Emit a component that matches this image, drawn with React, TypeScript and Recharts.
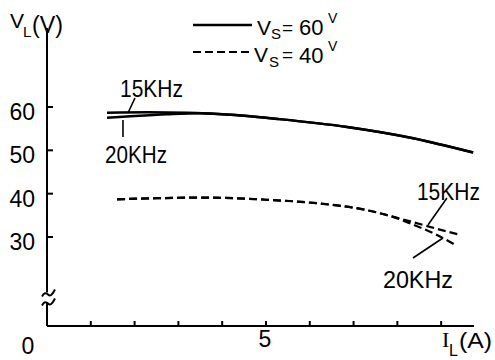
import { LineChart, Line, XAxis, YAxis, ReferenceDot, ReferenceLine } from 'recharts';

const FONT = '"Liberation Sans", Arial, sans-serif';
const INK = '#000';

// I_L (A) / V_L (V)
const iSolid15 = [1.37, 2.3, 3.2, 4.2, 5.3, 6.85, 8.36, 9.73];
const vSolid15 = [58.7, 58.8, 58.7, 58.2, 57.2, 55.4, 52.8, 49.5];
const iSolid20 = [1.37, 2.0, 2.74, 3.5, 4.2, 5.3, 6.85, 8.36, 9.73];
const vSolid20 = [57.5, 57.9, 58.3, 58.55, 58.2, 57.2, 55.4, 52.8, 49.5];
const iDash15 = [1.6, 2.5, 3.5, 5.0, 6.15, 7.3, 8.0, 8.3, 8.86, 9.43];
const vDash15 = [38.7, 38.95, 39.1, 38.6, 37.8, 36.2, 34.4, 33.6, 32.0, 30.5];
const iDash20 = [1.6, 2.5, 3.5, 5.0, 6.15, 7.3, 8.0, 8.3, 8.86, 9.32];
const vDash20 = [38.7, 38.95, 39.1, 38.6, 37.8, 36.2, 34.3, 33.1, 30.7, 28.2];

const xTicks = [0, 1, 2, 3, 4, 5, 6, 7, 8, 9];
const xTickLabels: Record<number, string> = { 0: '0', 5: '5' };
const yTicks = [30, 40, 50, 60];

const zip = (xs: number[], ys: number[]) => xs.map((x, k) => ({ i: x, v: ys[k] }));

// frequency labels (data coords of text start / baseline) + leader lines
const freqLabels = [
  { text: '15KHz', i: 1.667, v: 62.3, len: 63 },
  { text: '20KHz', i: 1.324, v: 47.1, len: 62 },
  { text: '15KHz', i: 8.447, v: 38.5, len: 63 },
  { text: '20KHz', i: 7.671, v: 18.2, len: 70 },
];
const leaders = [
  [{ x: 2.009, y: 62.08 }, { x: 1.849, y: 58.62 }],
  [{ x: 1.735, y: 57.0 }, { x: 1.735, y: 53.08 }],
  [{ x: 9.132, y: 39.0 }, { x: 8.699, y: 32.77 }],
  [{ x: 8.356, y: 25.15 }, { x: 9.041, y: 29.77 }],
];

const YTick = ({ x, y, payload }: any) => (
  <g>
    <line x1={x} y1={y} x2={x + 6} y2={y} stroke={INK} strokeWidth={2} />
    <text x={x - 12} y={y + 13} textAnchor="end" fontSize={23} fontFamily={FONT} fill={INK}>
      {payload.value}
    </text>
  </g>
);

const XTick = ({ x, y, payload }: any) => {
  const lab = xTickLabels[payload.value];
  const isZero = payload.value === 0;
  return (
    <g>
      {!isZero && <line x1={x} y1={y} x2={x} y2={y - 5} stroke={INK} strokeWidth={2} />}
      {lab && (
        <text
          x={isZero ? x - 19 : x - 1}
          y={isZero ? y + 28 : y + 21}
          textAnchor="middle"
          fontSize={23}
          fontFamily={FONT}
          fill={INK}
        >
          {lab}
        </text>
      )}
    </g>
  );
};

// axis break on the V axis
const BreakMark = ({ cx, cy }: any) => (
  <g fill="none" stroke={INK} strokeWidth={2}>
    <rect x={cx - 4} y={cy - 5} width={8} height={10} fill="#fff" stroke="none" />
    <path d={`M ${cx - 5} ${cy - 1} c 2 -4 4 -4 6 -2 s 4 1 7 -5`} />
    <path d={`M ${cx - 5} ${cy + 8} c 2 -4 4 -4 6 -2 s 4 1 7 -5`} />
  </g>
);

export default function App() {
  return (
    <div style={{ width: 495, height: 360, background: '#fff' }}>
      <style>{'body{margin:0}'}</style>
      <LineChart width={495} height={360} margin={{ top: 28, right: 21, bottom: 0, left: 0 }}>
        <XAxis
          dataKey="i"
          type="number"
          domain={[0, 9.75]}
          ticks={xTicks}
          interval={0}
          height={34}
          tickSize={0}
          tickMargin={0}
          tick={<XTick />}
          axisLine={{ stroke: INK, strokeWidth: 2 }}
          allowDataOverflow
        />
        <YAxis
          type="number"
          domain={[9.46, 78.23]}
          ticks={yTicks}
          interval={0}
          width={47}
          tickSize={0}
          tickMargin={0}
          tick={<YTick />}
          axisLine={{ stroke: INK, strokeWidth: 2 }}
          allowDataOverflow
        />

        <Line data={zip(iSolid15, vSolid15)} dataKey="v" type="monotone" stroke={INK} strokeWidth={2.5} dot={false} isAnimationActive={false} />
        <Line data={zip(iSolid20, vSolid20)} dataKey="v" type="monotone" stroke={INK} strokeWidth={2.5} dot={false} isAnimationActive={false} />
        <Line data={zip(iDash15, vDash15)} dataKey="v" type="monotone" stroke={INK} strokeWidth={2.2} strokeDasharray="8 4" dot={false} isAnimationActive={false} />
        <Line data={zip(iDash20, vDash20)} dataKey="v" type="monotone" stroke={INK} strokeWidth={2.2} strokeDasharray="8 4" dot={false} isAnimationActive={false} />

        {leaders.map((seg, k) => (
          <ReferenceLine key={'l' + k} segment={seg} stroke={INK} strokeWidth={1.6} ifOverflow="visible" />
        ))}
        {freqLabels.map((f, k) => (
          <ReferenceDot
            key={'f' + k}
            x={f.i}
            y={f.v}
            r={0}
            ifOverflow="visible"
            shape={(p: any) => (
              <text x={p.cx} y={p.cy} fontSize={24} fontFamily={FONT} fill={INK} textLength={f.len} lengthAdjust="spacingAndGlyphs">
                {f.text}
              </text>
            )}
          />
        ))}
        <ReferenceDot x={0} y={16.04} r={0} ifOverflow="visible" shape={<BreakMark />} />

        {/* axis titles */}
        <text x={10} y={28} fontSize={21} fontFamily={FONT} fill={INK}>
          V
        </text>
        <text x={23} y={37} fontSize={15} fontFamily={FONT} fill={INK}>
          L
        </text>
        <text x={32} y={33} fontSize={23} fontFamily={FONT} fill={INK} textLength={31} lengthAdjust="spacingAndGlyphs">
          (V)
        </text>
        <text x={442} y={347} fontSize={22} fontFamily='"Liberation Serif", serif' fill={INK}>
          I
        </text>
        <text x={449} y={356} fontSize={16} fontFamily={FONT} fill={INK}>
          L
        </text>
        <text x={459} y={348} fontSize={22} fontFamily={FONT} fill={INK} textLength={33} lengthAdjust="spacingAndGlyphs">
          (A)
        </text>

        {/* legend */}
        <line x1={193} y1={25} x2={252} y2={25} stroke={INK} strokeWidth={2.5} />
        <line x1={193} y1={52} x2={252} y2={52} stroke={INK} strokeWidth={2.2} strokeDasharray="8 4" />
        <text fontFamily={FONT} fill={INK}>
          <tspan x={257} y={35} fontSize={21}>V</tspan>
          <tspan x={271} y={39} fontSize={15}>S</tspan>
          <tspan x={282} y={34} fontSize={19}>=</tspan>
          <tspan x={299} y={35} fontSize={22}>60</tspan>
          <tspan x={328} y={23} fontSize={14}>V</tspan>
        </text>
        <text fontFamily={FONT} fill={INK}>
          <tspan x={254} y={62} fontSize={21}>V</tspan>
          <tspan x={269} y={67} fontSize={15}>S</tspan>
          <tspan x={282} y={61} fontSize={19}>=</tspan>
          <tspan x={299} y={63} fontSize={22}>40</tspan>
          <tspan x={328} y={51} fontSize={14}>V</tspan>
        </text>
      </LineChart>
    </div>
  );
}
